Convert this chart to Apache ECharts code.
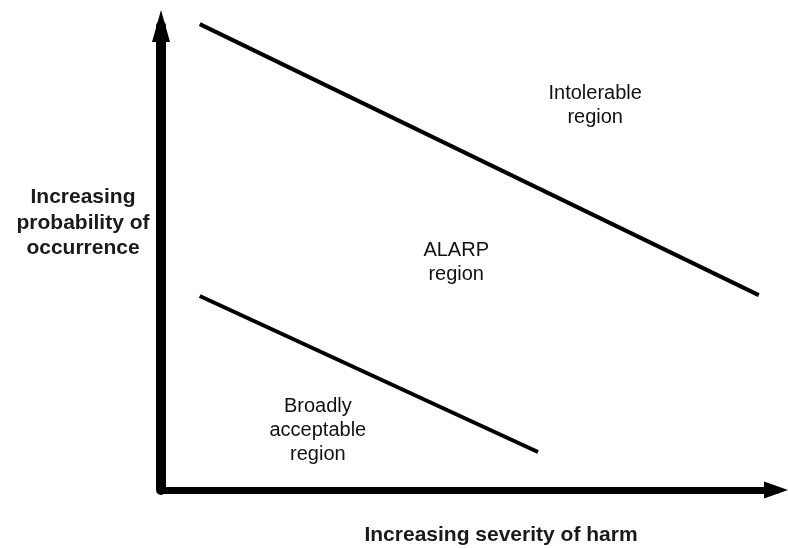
<!DOCTYPE html>
<html>
<head>
<meta charset="utf-8">
<script src="https://cdn.jsdelivr.net/npm/echarts@6/dist/echarts.min.js"></script>
<style>html,body{margin:0;padding:0;background:#fff;}#c{width:788px;height:548px;}</style>
</head>
<body>
<div id="c"></div>
<script>
// Conceptual risk diagram (abstract 0-100 units on both axes)
const upperBoundary = [[6.3, 100.4], [97.2, 42.0]];   // intolerable / ALARP boundary
const lowerBoundary = [[6.3, 41.8], [61.3, 8.2]];     // ALARP / broadly acceptable boundary
const regionNames = ['Intolerable\nregion', 'ALARP\nregion', 'Broadly\nacceptable\nregion'];
const regionX = [70.6, 48.0, 25.5];
const regionY = [82.8, 49.1, 12.9];
const xTitle = 'Increasing severity of harm';
const yTitle = 'Increasing\nprobability of\noccurrence';

const FONT = "'Liberation Sans', Arial, sans-serif";
const chart = echarts.init(document.getElementById('c'), null, {renderer: 'canvas'});

const regionData = regionNames.map((n, i) => ({name: n, value: [regionX[i], regionY[i]]}));

chart.setOption({
  animation: false,
  backgroundColor: '#ffffff',
  grid: {left: 161, right: 12, top: 26, bottom: 58},
  xAxis: {
    type: 'value', min: 0, max: 100,
    axisLine: {show: true, onZero: false, symbol: ['none', 'triangle'], symbolSize: [17, 24],
      lineStyle: {color: '#000', width: 7}},
    axisTick: {show: false}, axisLabel: {show: false}, splitLine: {show: false}
  },
  yAxis: {
    type: 'value', min: 0, max: 100,
    axisLine: {show: true, onZero: false, symbol: ['none', 'triangle'], symbolSize: [18, 32],
      lineStyle: {color: '#000', width: 10}},
    axisTick: {show: false}, axisLabel: {show: false}, splitLine: {show: false}
  },
  series: [
    {type: 'line', data: upperBoundary, showSymbol: false, symbol: 'none', clip: false,
      lineStyle: {color: '#000', width: 4}},
    {type: 'line', data: lowerBoundary, showSymbol: false, symbol: 'none', clip: false,
      lineStyle: {color: '#000', width: 4}},
    {type: 'scatter', data: regionData, symbolSize: 0, silent: true,
      itemStyle: {opacity: 1},
      label: {show: true, position: 'inside', formatter: p => p.name,
        color: '#111', fontFamily: FONT, fontSize: 20, lineHeight: 24, align: 'center'}}
  ],
  graphic: [
    {type: 'text', x: 83, y: 223, style: {text: yTitle, fill: '#1a1a1a', font: 'bold 21px ' + FONT,
      textAlign: 'center', textVerticalAlign: 'middle', lineHeight: 25.5}},
    {type: 'text', x: 501, y: 535, style: {text: xTitle, fill: '#1a1a1a', font: 'bold 21px ' + FONT,
      textAlign: 'center', textVerticalAlign: 'middle'}}
  ]
});
</script>
</body>
</html>
